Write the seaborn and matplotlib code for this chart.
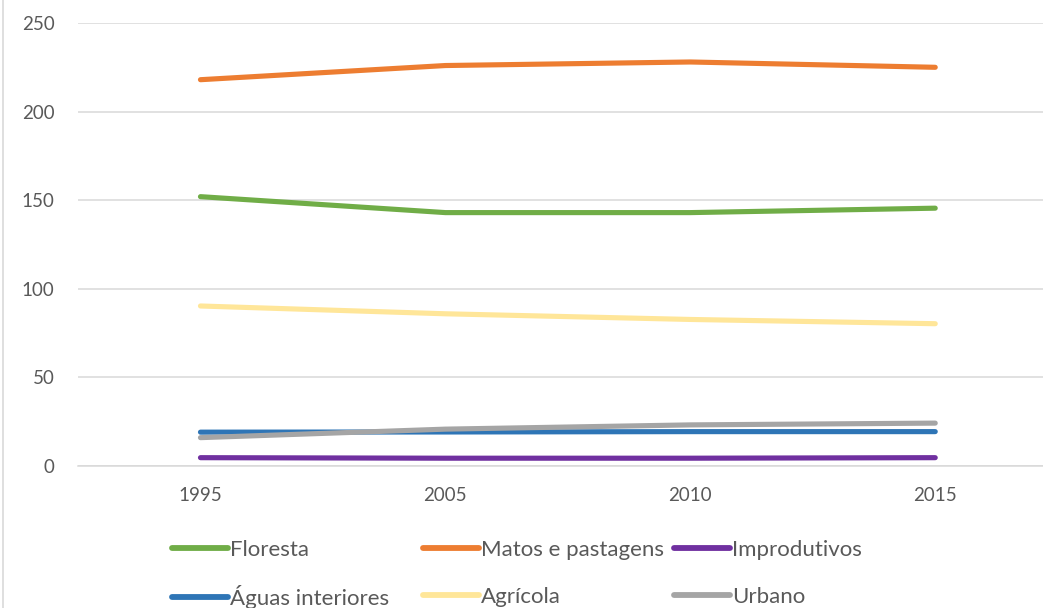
import matplotlib
matplotlib.use("Agg")
import matplotlib.pyplot as plt
import seaborn as sns
import pandas as pd
from matplotlib.lines import Line2D

# Land-use areas per year
years = ["1995", "2005", "2010", "2015"]
floresta = [152, 143, 143, 145.5]
matos_pastagens = [218, 226, 228, 225]
improdutivos = [4.7, 4.4, 4.4, 4.7]
aguas_interiores = [19.1, 19.2, 19.4, 19.4]
agricola = [90.3, 85.9, 82.7, 80.3]
urbano = [16.0, 20.8, 23.2, 24.2]

series_names = ["Floresta", "Matos e pastagens", "Improdutivos",
                "Águas interiores", "Agrícola", "Urbano"]
series_values = [floresta, matos_pastagens, improdutivos,
                 aguas_interiores, agricola, urbano]
colors = ["#70AD47", "#ED7D31", "#7030A0", "#2E75B6", "#FFE699", "#A5A5A5"]

y_ticks = [0, 50, 100, 150, 200, 250]

rows = []
for name, vals in zip(series_names, series_values):
    for i, (yr, v) in enumerate(zip(years, vals)):
        rows.append({"pos": i, "ano": yr, "serie": name, "valor": v})
df = pd.DataFrame(rows)

sns.set_theme(style="white")
plt.rcParams["font.family"] = ["Lato", "DejaVu Sans"]

W, H = 1043, 608
fig = plt.figure(figsize=(W / 100, H / 100), dpi=100)
left_px, right_px, top_px, bottom_px = 78, 1043, 23, 466
ax = fig.add_axes([left_px / W, 1 - bottom_px / H,
                   (right_px - left_px) / W, (bottom_px - top_px) / H])

sns.lineplot(data=df, x="pos", y="valor", hue="serie", hue_order=series_names,
             palette=colors, linewidth=3.7, ax=ax, sort=False, legend=True)
for ln in ax.get_lines():
    ln.set_solid_capstyle("round")
    ln.set_solid_joinstyle("round")

handles, labels = ax.get_legend_handles_labels()
ax.get_legend().remove()

ax.set_xlim(-0.5, 3.44)
ax.set_ylim(0, 250)
ax.set_xticks(range(len(years)))
ax.set_xticklabels(years)
ax.set_yticks(y_ticks)
ax.set_xlabel("")
ax.set_ylabel("")
ax.yaxis.grid(True, color="#D9D9D9", linewidth=1.1)
ax.set_axisbelow(True)
for side in ["top", "right", "left"]:
    ax.spines[side].set_visible(False)
ax.spines["bottom"].set_color("#D9D9D9")
ax.spines["bottom"].set_linewidth(1.1)
ax.tick_params(axis="y", length=0, pad=17, labelsize=13.5, labelcolor="#595959")
ax.tick_params(axis="x", length=0, pad=15, labelsize=13.5, labelcolor="#595959")

# Chart border on the left edge
fig.add_artist(Line2D([3 / W, 3 / W], [0, 1], transform=fig.transFigure,
                      color="#D9D9D9", linewidth=1.2))

# Legend: one entry per slot in a 3 x 2 grid
handle_map = dict(zip(labels, handles))
col_x = [172, 423, 674]
row_y = [550, 597]
for k, name in enumerate(series_names):
    cx = col_x[k % 3]
    ry = row_y[k // 3]
    h = handle_map[name]
    proxy = Line2D([], [], color=h.get_color(), linewidth=4.2,
                   solid_capstyle="round")
    fig.legend([proxy], [name], loc="center left",
               bbox_to_anchor=(cx / W, 1 - ry / H),
               bbox_transform=fig.transFigure, frameon=False,
               fontsize=16, handlelength=2.5, handletextpad=0.1,
               borderpad=0, borderaxespad=0, labelcolor="#595959")

fig.savefig("out.png", dpi=100, facecolor="white")
